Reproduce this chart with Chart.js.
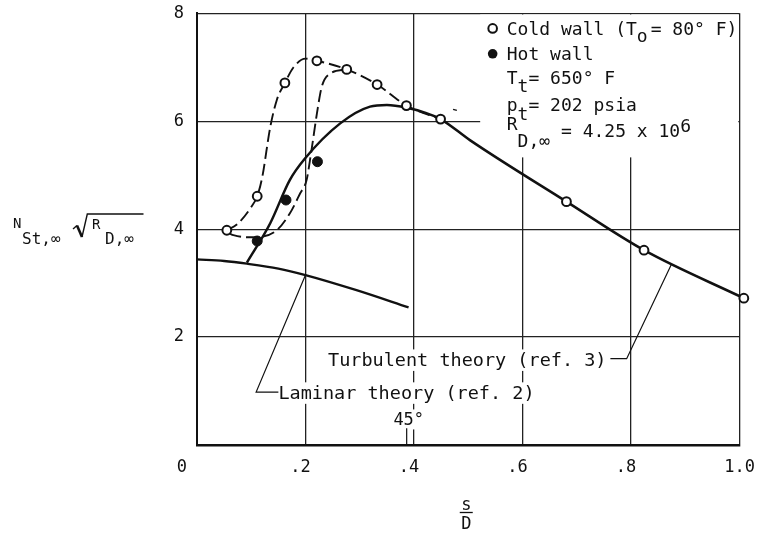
<!DOCTYPE html>
<html>
<head>
	<meta http-equiv="Content-Type" content="text/html; charset=utf-8"/>
	<script type="text/javascript" src="https://cdn.jsdelivr.net/npm/chart.js@4.4.1/dist/chart.umd.min.js"></script>
	<style type="text/css">
		body { margin: 0; background: #fff; }
		#wrap { width: 761px; height: 533px; position: relative; }
	</style>
</head>
<body>
<div id="wrap"><canvas id="chart"></canvas></div>
<script type="text/javascript">
	// measured Stanton numbers, s/D vs N_St sqrt(R_D)
	var coldWallX = [0.055, 0.111, 0.162, 0.221, 0.276, 0.332, 0.386, 0.449, 0.681, 0.824, 1.008];
	var coldWallY = [3.98, 4.61, 6.71, 7.12, 6.96, 6.68, 6.29, 6.04, 4.51, 3.61, 2.72];
	var hotWallX = [0.111, 0.164, 0.222];
	var hotWallY = [3.78, 4.54, 5.25];

	// faired curves through the data (dashed)
	var coldFairX = [0.055, 0.075, 0.1, 0.111, 0.12, 0.135, 0.147, 0.162, 0.178, 0.2, 0.221, 0.276, 0.332, 0.386, 0.449];
	var coldFairY = [3.98, 4.1, 4.41, 4.61, 4.95, 5.89, 6.39, 6.71, 7.0, 7.16, 7.12, 6.96, 6.68, 6.29, 6.04];
	var hotFairX = [0.06, 0.067, 0.092, 0.119, 0.147, 0.171, 0.19, 0.202, 0.211, 0.221, 0.23, 0.245, 0.276];
	var hotFairY = [3.92, 3.89, 3.85, 3.86, 3.98, 4.29, 4.66, 4.91, 5.46, 6.14, 6.64, 6.88, 6.96];

	// theory curves
	var turbX = [0.092, 0.135, 0.171, 0.199, 0.264, 0.319, 0.35, 0.387, 0.42, 0.449, 0.503, 0.681, 0.824, 1.008];
	var turbY = [3.38, 4.11, 4.91, 5.31, 5.96, 6.27, 6.3, 6.25, 6.16, 6.04, 5.65, 4.51, 3.61, 2.72];
	var lamX = [0, 0.05, 0.092, 0.15, 0.2, 0.294, 0.39];
	var lamY = [3.44, 3.41, 3.36, 3.27, 3.15, 2.87, 2.55];

	// leader lines for the theory labels
	var lamLeadX = [0.15, 0.109, 0.2];
	var lamLeadY = [0.98, 0.98, 3.15];
	var turbLeadX = [0.762, 0.792, 0.875];
	var turbLeadY = [1.6, 1.6, 3.36];
	var angleTickX = [0.3865, 0.3865];
	var angleTickY = [0, 0.31];
	var strayX = [0.472, 0.479];
	var strayY = [6.22, 6.2];

	var xTicks = [0, 0.2, 0.4, 0.6, 0.8, 1.0];
	var xTickLabels = ['0  ', '.2', '.4', '.6', '.8', ' 1.0'];
	var yTicks = [2, 4, 6, 8];

	var FONT = '"DejaVu Sans Mono", monospace';
	var INK = '#111';

	function pts(xs, ys) {
		var out = [];
		for (var i = 0; i < xs.length; i++) out.push({x: xs[i], y: ys[i]});
		return out;
	}

	function curve(xs, ys, width, dash, smooth) {
		return {
			data: pts(xs, ys), showLine: true, pointRadius: 0,
			borderColor: INK, borderWidth: width, borderDash: dash || [],
			cubicInterpolationMode: smooth ? 'monotone' : 'default', tension: 0, clip: false
		};
	}

	// no extra room for overhanging tick labels, the layout padding covers it
	function noOverhang(s) {
		s.paddingTop = 0; s.paddingBottom = 0; s.paddingLeft = 0; s.paddingRight = 0;
	}

	// draws text pieces one after another: [text, dy, size, gap before]
	function rich(ctx, x, y, parts, size) {
		var cx = x;
		for (var i = 0; i < parts.length; i++) {
			var p = parts[i];
			cx += p[3] || 0;
			ctx.font = (p[2] || size) + 'px ' + FONT;
			ctx.fillText(p[0], cx, y + (p[1] || 0));
			cx += ctx.measureText(p[0]).width;
		}
	}

	function clearBehind(ctx, x, y, text, size) {
		ctx.font = size + 'px ' + FONT;
		var w = ctx.measureText(text).width;
		ctx.fillStyle = '#fff';
		ctx.fillRect(x - 3, y - size * 0.8 - 2, w + 6, size + 3);
	}

	var notes = {
		id: 'notes',
		beforeDatasetsDraw: function(chart) {
			var ctx = chart.ctx, xs = chart.scales.x, ys = chart.scales.y, a = chart.chartArea;
			ctx.save();
			// blank panel for the key in the upper right
			ctx.fillStyle = '#fff';
			var bx = xs.getPixelForValue(0.522), by = ys.getPixelForValue(5.33);
			ctx.fillRect(bx, a.top + 1.2, a.right - 1.2 - bx, by - a.top - 1.2);
			clearBehind(ctx, xs.getPixelForValue(0.2415), ys.getPixelForValue(1.46), 'Turbulent theory (ref. 3)', 18.5);
			clearBehind(ctx, xs.getPixelForValue(0.15), ys.getPixelForValue(0.85), 'Laminar theory (ref. 2)', 18.5);
			clearBehind(ctx, xs.getPixelForValue(0.362), ys.getPixelForValue(0.37), '45°', 17);
			ctx.restore();
		},
		afterDatasetsDraw: function(chart) {
			var ctx = chart.ctx, xs = chart.scales.x, ys = chart.scales.y, a = chart.chartArea;
			ctx.save();
			ctx.fillStyle = INK;
			ctx.strokeStyle = INK;
			ctx.textBaseline = 'alphabetic';
			ctx.textAlign = 'left';

			// key
			var kx = xs.getPixelForValue(0.571);
			var mx = xs.getPixelForValue(0.545);
			ctx.lineWidth = 2;
			ctx.beginPath();
			ctx.arc(mx, ys.getPixelForValue(7.72), 4.3, 0, Math.PI * 2);
			ctx.stroke();
			ctx.beginPath();
			ctx.arc(mx, ys.getPixelForValue(7.25), 4.8, 0, Math.PI * 2);
			ctx.fill();
			rich(ctx, kx, ys.getPixelForValue(7.593), [['Cold wall (T'], ['o', 7], ['= 80° F)', 0, 0, 3]], 18);
			rich(ctx, kx, ys.getPixelForValue(7.143), [['Hot wall']], 18);
			rich(ctx, kx, ys.getPixelForValue(6.698), [['T'], ['t', 8], ['= 650° F']], 18);
			rich(ctx, kx, ys.getPixelForValue(6.19), [['p'], ['t', 9], ['= 202 psia']], 18);
			rich(ctx, kx, ys.getPixelForValue(5.704), [['R', -7], ['D,∞', 10], [' = 4.25 x 10'], ['6', -5.5]], 18);

			// theory labels
			rich(ctx, xs.getPixelForValue(0.2415), ys.getPixelForValue(1.46), [['Turbulent theory (ref. 3)']], 18.5);
			rich(ctx, xs.getPixelForValue(0.15), ys.getPixelForValue(0.85), [['Laminar theory (ref. 2)']], 18.5);
			rich(ctx, xs.getPixelForValue(0.362), ys.getPixelForValue(0.37), [['45°']], 17);

			// y axis title: N_St,inf sqrt(R_D,inf)
			rich(ctx, 13, 228, [['N', 0, 14]], 16);
			rich(ctx, 22, 244, [['St,∞']], 16);
			ctx.lineWidth = 1.4;
			ctx.beginPath();
			ctx.moveTo(73, 229);
			ctx.lineTo(77, 225.5);
			ctx.stroke();
			ctx.lineWidth = 2.6;
			ctx.beginPath();
			ctx.moveTo(77, 225.5);
			ctx.lineTo(82, 237);
			ctx.stroke();
			ctx.lineWidth = 1.4;
			ctx.beginPath();
			ctx.moveTo(82, 237);
			ctx.lineTo(87.3, 214);
			ctx.lineTo(143.5, 214);
			ctx.stroke();
			rich(ctx, 92, 229, [['R', 0, 14]], 16);
			rich(ctx, 105, 244, [['D,∞']], 16);

			// x axis title: s over D
			var cx = (a.left + a.right) / 2 - 2;
			ctx.textAlign = 'center';
			ctx.font = '17px ' + FONT;
			ctx.fillText('s', cx, 510);
			ctx.fillText('D', cx, 528.5);
			ctx.lineWidth = 1.3;
			ctx.beginPath();
			ctx.moveTo(cx - 6.5, 512.5);
			ctx.lineTo(cx + 6.5, 512.5);
			ctx.stroke();
			ctx.restore();
		}
	};

	var canvas = document.getElementById('chart').getContext('2d');
	window.grafico = new Chart(canvas, {
		type: 'scatter',
		data: {
			datasets: [
				{ data: pts(coldWallX, coldWallY), pointRadius: 4.4, pointBorderWidth: 2,
				  pointBackgroundColor: '#fff', pointBorderColor: INK, showLine: false, clip: false },
				{ data: pts(hotWallX, hotWallY), pointRadius: 5, pointBorderWidth: 1,
				  pointBackgroundColor: INK, pointBorderColor: INK, showLine: false, clip: false },
				curve(turbX, turbY, 2.5, null, true),
				curve(lamX, lamY, 2.3, null, true),
				curve(coldFairX, coldFairY, 1.9, [12, 5], true),
				curve(hotFairX, hotFairY, 1.9, [12, 5], true),
				curve(lamLeadX, lamLeadY, 1.2),
				curve(turbLeadX, turbLeadY, 1.2),
				curve(angleTickX, angleTickY, 1.2),
				curve(strayX, strayY, 1.3)
			]
		},
		options: {
			responsive: true,
			maintainAspectRatio: false,
			animation: false,
			events: [],
			layout: { padding: { left: 147, right: 21.5, top: 13.3, bottom: 28 } },
			plugins: { legend: { display: false }, tooltip: { enabled: false } },
			scales: {
				x: {
					type: 'linear', min: 0, max: 1,
					afterBuildTicks: function(s) { s.ticks = xTicks.map(function(v) { return {value: v}; }); },
					afterFit: function(s) { s.height = 60; noOverhang(s); },
					grid: { color: '#222', lineWidth: 1.3, drawTicks: false },
					border: { color: INK, width: 2.5 },
					ticks: {
						padding: 12, labelOffset: -5, maxRotation: 0, autoSkip: false,
						color: INK, font: { family: FONT, size: 17 },
						callback: function(v, i) { return xTickLabels[i]; }
					}
				},
				y: {
					type: 'linear', min: 0, max: 8,
					afterBuildTicks: function(s) { s.ticks = yTicks.map(function(v) { return {value: v}; }); },
					afterFit: function(s) { s.width = 50; noOverhang(s); },
					grid: { color: '#222', lineWidth: 1.3, drawTicks: false },
					border: { color: INK, width: 2 },
					ticks: {
						padding: 13, color: INK, font: { family: FONT, size: 17 },
						callback: function(v) { return String(v); }
					}
				}
			}
		},
		plugins: [notes]
	});
</script>
</body>
</html>
